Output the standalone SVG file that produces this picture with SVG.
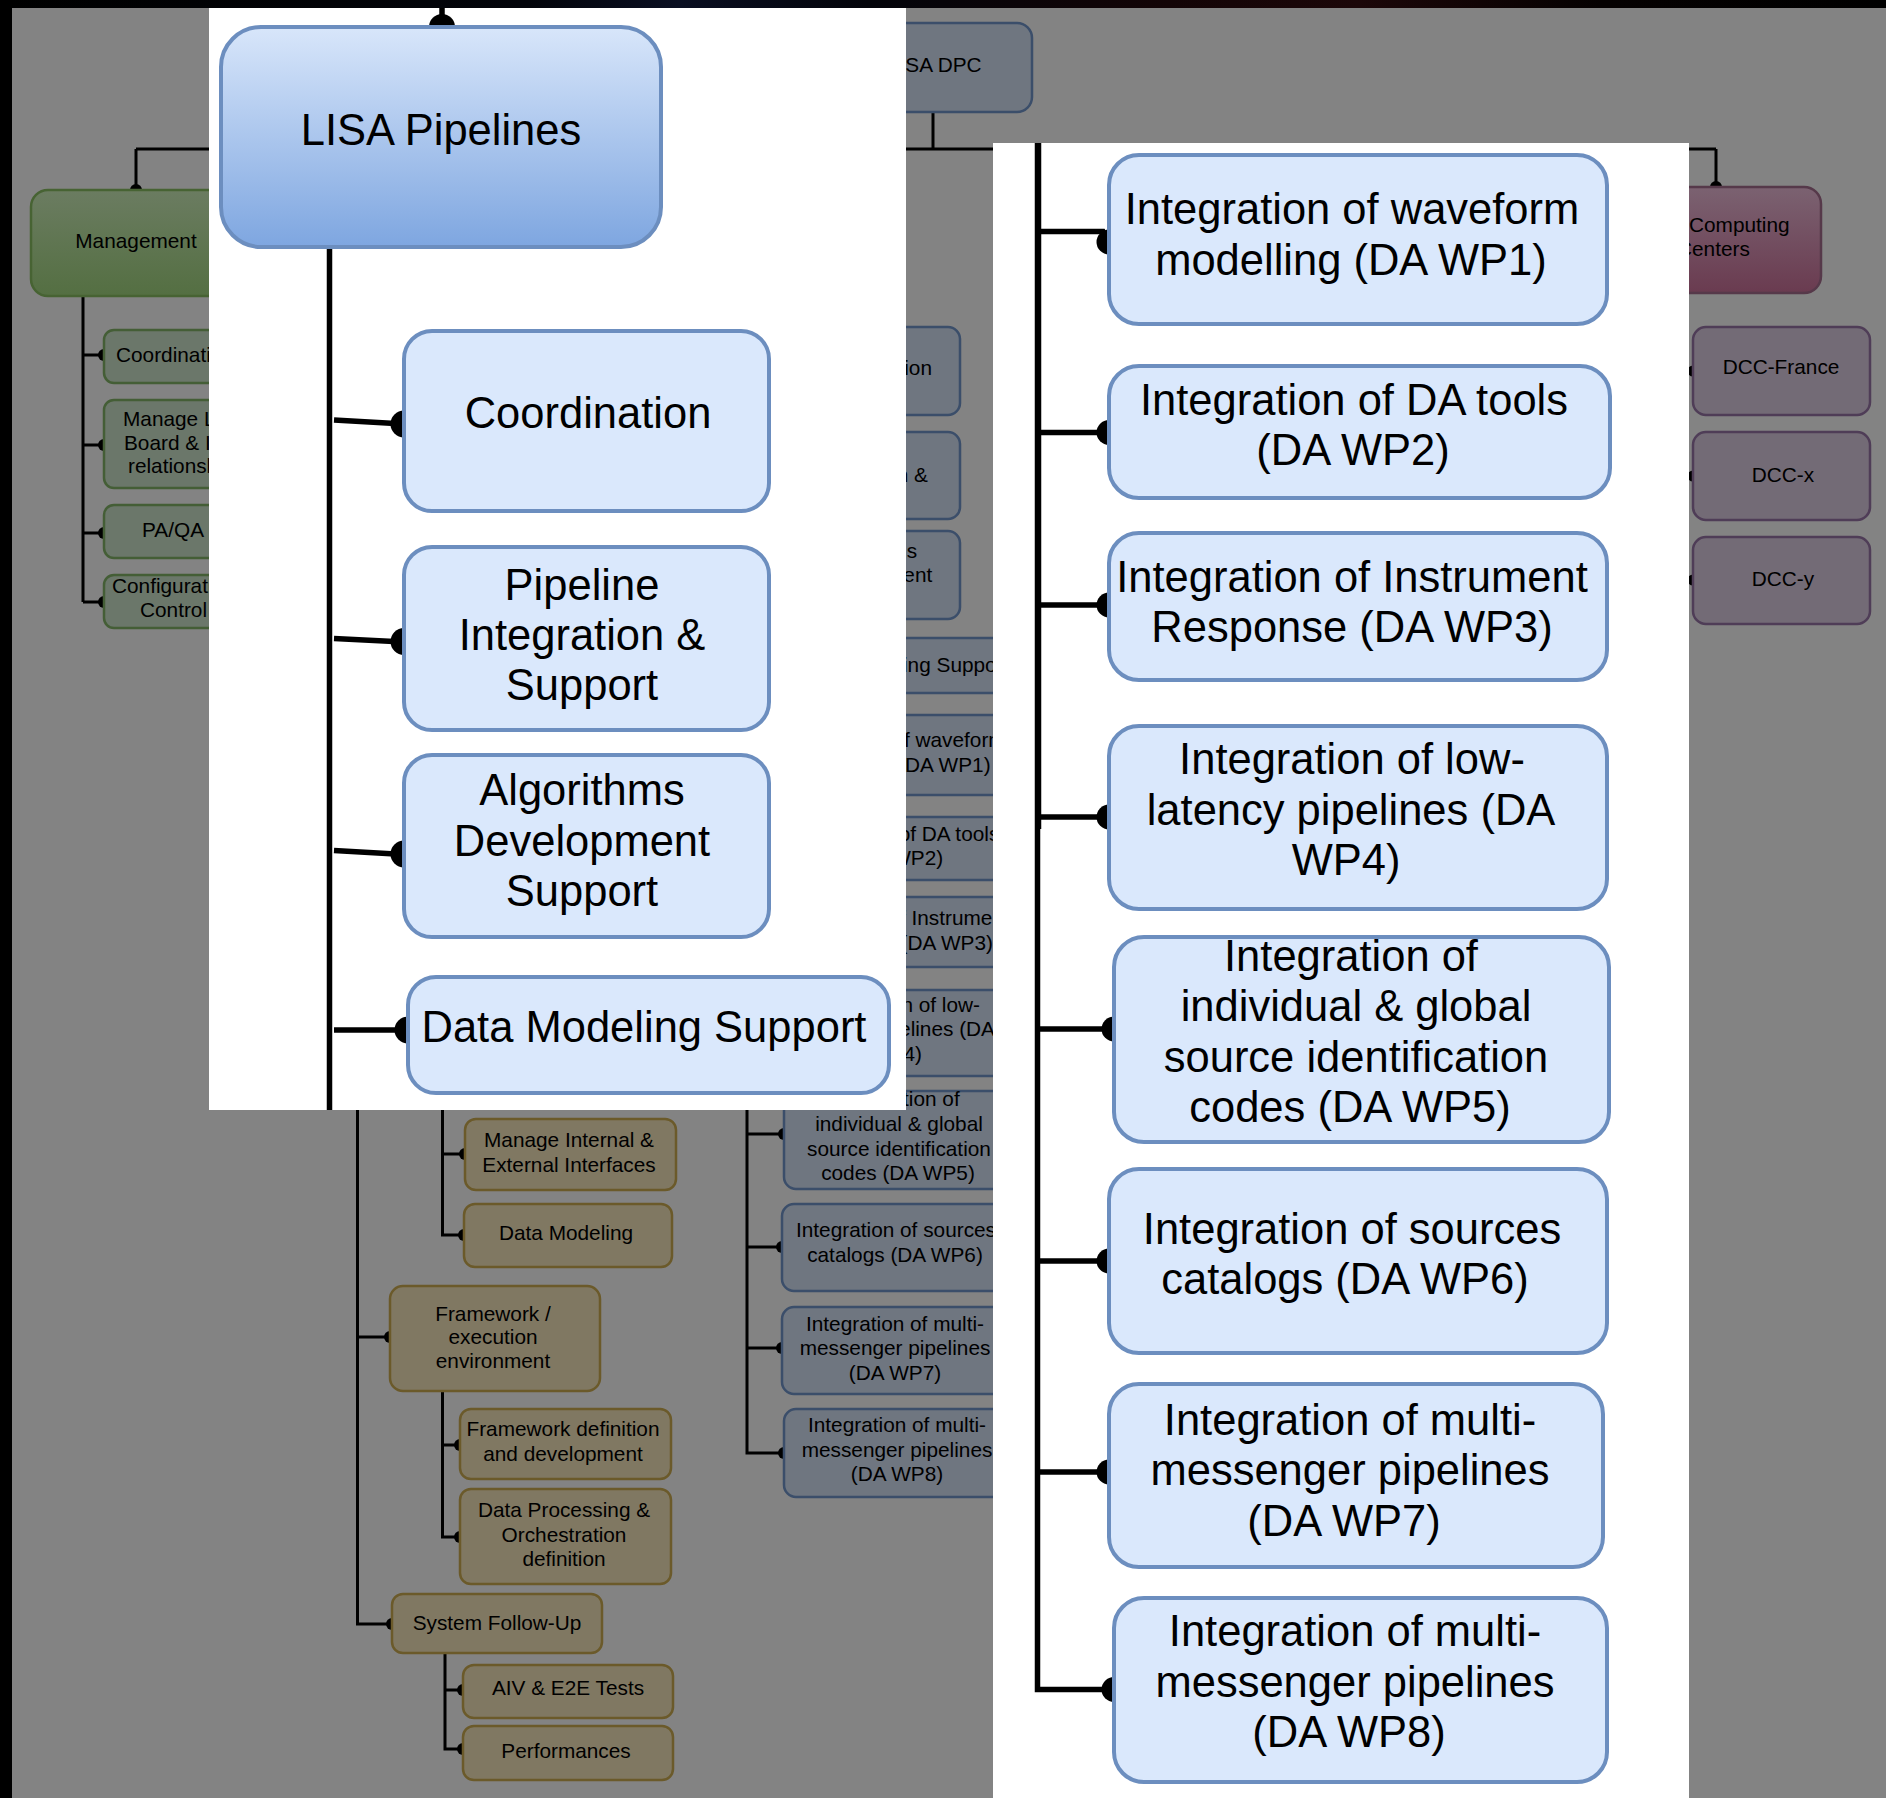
<svg xmlns="http://www.w3.org/2000/svg" width="1886" height="1798" viewBox="0 0 1886 1798">
<defs>
  <linearGradient id="gLisa" x1="0" y1="0" x2="0" y2="1">
    <stop offset="0" stop-color="#d8e6fa"/>
    <stop offset="1" stop-color="#7ea6e0"/>
  </linearGradient>
  <linearGradient id="gMgmt" x1="0" y1="0" x2="0" y2="1">
    <stop offset="0" stop-color="#6b7c61"/>
    <stop offset="1" stop-color="#546f42"/>
  </linearGradient>
  <linearGradient id="gComp" x1="0" y1="0" x2="0" y2="1">
    <stop offset="0" stop-color="#7b6271"/>
    <stop offset="1" stop-color="#6a3b50"/>
  </linearGradient>
  <linearGradient id="gTop" x1="0" y1="0" x2="1" y2="0">
    <stop offset="0" stop-color="#000"/>
    <stop offset="0.28" stop-color="#03050b"/>
    <stop offset="0.36" stop-color="#0a0f22"/>
    <stop offset="0.46" stop-color="#03040a"/>
    <stop offset="0.62" stop-color="#130406"/>
    <stop offset="0.72" stop-color="#1c0709"/>
    <stop offset="0.85" stop-color="#050101"/>
    <stop offset="1" stop-color="#000"/>
  </linearGradient>
</defs>
<style>
  text { font-family: "Liberation Sans", Arial, Helvetica, sans-serif; fill: #000; }
  .bt { font-size: 20.8px; text-anchor: middle; }
  .bs { font-size: 20.8px; text-anchor: start; }
  .be { font-size: 20.8px; text-anchor: end; }
  .pt { font-size: 43.5px; text-anchor: middle; }
  .bl { fill: #6f7680; stroke: #3b4e6a; stroke-width: 2.5; }
  .gr { fill: #6b776a; stroke: #445e36; stroke-width: 2.5; }
  .ye { fill: #807862; stroke: #6b5a2a; stroke-width: 2.5; }
  .pu { fill: #736b76; stroke: #4f3d57; stroke-width: 2.5; }
  .pn { fill: #dae8fc; stroke: #6c8ebf; stroke-width: 4; }
  .bc { fill: none; stroke: #000; stroke-width: 3; }
  .pc { fill: none; stroke: #000; stroke-width: 5.5; }
  .dot { fill: #000; }
</style>

<!-- dimmed backdrop -->
<rect x="0" y="0" width="1886" height="1798" fill="#838383"/>

<!-- backdrop tree: connectors -->
<g id="bg-connectors">
  <path class="bc" d="M136,149 H1716"/>
  <path class="bc" d="M933,111 V149"/>
  <path class="bc" d="M136,149 V190"/>
  <path class="bc" d="M1716,149 V187"/>
  <path class="bc" d="M83,296 V602"/>
  <path class="bc" d="M83,355 H104 M83,445 H104 M83,533 H104 M83,602 H104"/>
  <path class="bc" d="M357.5,1000 V1624 H392 M357.5,1337 H390"/>
  <path class="bc" d="M442.5,1000 V1235 H464 M442.5,1154 H465"/>
  <path class="bc" d="M442.5,1391 V1537 H460 M442.5,1445 H460"/>
  <path class="bc" d="M445,1653 V1749 H463 M445,1690 H463"/>
  <path class="bc" d="M747,1000 V1453 H784 M747,1134 H784 M747,1247 H782 M747,1348 H782"/>
  <circle class="dot" cx="136" cy="190" r="6"/>
  <circle class="dot" cx="1716" cy="187" r="6"/>
  <circle class="dot" cx="104" cy="355" r="6"/>
  <circle class="dot" cx="104" cy="445" r="6"/>
  <circle class="dot" cx="104" cy="533" r="6"/>
  <circle class="dot" cx="104" cy="602" r="6"/>
  <circle class="dot" cx="390" cy="1337" r="6"/>
  <circle class="dot" cx="392" cy="1624" r="6"/>
  <circle class="dot" cx="465" cy="1154" r="6"/>
  <circle class="dot" cx="464" cy="1235" r="6"/>
  <circle class="dot" cx="460" cy="1445" r="6"/>
  <circle class="dot" cx="460" cy="1537" r="6"/>
  <circle class="dot" cx="463" cy="1690" r="6"/>
  <circle class="dot" cx="463" cy="1749" r="6"/>
  <circle class="dot" cx="784" cy="1134" r="6"/>
  <circle class="dot" cx="782" cy="1247" r="6"/>
  <circle class="dot" cx="782" cy="1348" r="6"/>
  <circle class="dot" cx="784" cy="1453" r="6"/>
  <circle class="dot" cx="1693" cy="371" r="5.5"/>
  <circle class="dot" cx="1693" cy="476" r="5.5"/>
  <circle class="dot" cx="1693" cy="580" r="5.5"/>
</g>

<!-- backdrop tree: nodes -->
<g id="bg-dpc"><rect x="835" y="23" width="197" height="89" rx="15" fill="#6f7680" stroke="#3b4e6a" stroke-width="2.5"/><text class="bs" x="888" y="72">LISA DPC</text></g>

<g id="bg-management"><rect x="31" y="190" width="210" height="106" rx="17" fill="url(#gMgmt)" stroke="#476333" stroke-width="2.5"/><text class="bt" x="136" y="248">Management</text></g>
<g id="bg-mg-coordination"><rect class="gr" x="104" y="330" width="136" height="53" rx="10"/><text class="bs" x="116" y="362">Coordination</text></g>
<g id="bg-mg-board"><rect class="gr" x="104" y="400" width="136" height="88" rx="10"/><text class="bs" x="123" y="426">Manage L</text><text class="bs" x="124" y="450">Board &amp; I</text><text class="bs" x="128" y="473">relationsh</text></g>
<g id="bg-mg-paqa"><rect class="gr" x="104" y="505" width="136" height="53" rx="10"/><text class="bs" x="142" y="537">PA/QA</text></g>
<g id="bg-mg-config"><rect class="gr" x="104" y="575" width="136" height="53" rx="10"/><text class="bs" x="112" y="593">Configuration</text><text class="bs" x="140" y="617">Control</text></g>

<g id="bg-coordination"><rect class="bl" x="784" y="327" width="176" height="88" rx="12"/><text class="bt" x="873" y="375">Coordination</text></g>
<g id="bg-pipeline"><rect class="bl" x="784" y="432" width="176" height="87" rx="12"/><text class="bt" x="869" y="458">Pipeline</text><text class="bt" x="869" y="482">Integration &amp;</text><text class="bt" x="869" y="506">Support</text></g>
<g id="bg-algorithms"><rect class="bl" x="784" y="531" width="176" height="88" rx="12"/><text class="bt" x="868" y="558">Algorithms</text><text class="bt" x="871" y="582">Development</text><text class="bt" x="869" y="606">Support</text></g>
<g id="bg-datamodeling"><rect class="bl" x="784" y="638" width="240" height="55" rx="12"/><text class="bt" x="903" y="672">Data Modeling Support</text></g>

<g id="bg-wp1"><rect class="bl" x="783" y="715" width="228" height="80" rx="12"/><text class="bt" x="897" y="747">Integration of waveform</text><text class="bt" x="897" y="772">modelling (DA WP1)</text></g>
<g id="bg-wp2"><rect class="bl" x="783" y="817" width="228" height="63" rx="12"/><text class="bt" x="897" y="841">Integration of DA tools</text><text class="bt" x="897" y="865">(DA WP2)</text></g>
<g id="bg-wp3"><rect class="bl" x="783" y="897" width="228" height="70" rx="12"/><text class="bt" x="897" y="925">Integration of Instrument</text><text class="bt" x="897" y="950">Response (DA WP3)</text></g>
<g id="bg-wp4"><rect class="bl" x="783" y="990" width="228" height="86" rx="12"/><text class="be" x="980" y="1012">n of low-</text><text class="be" x="995" y="1036">elines (DA</text><text class="be" x="922" y="1061">4)</text></g>
<g id="bg-wp5"><rect class="bl" x="784" y="1091" width="227" height="98" rx="12"/><text class="bt" x="899" y="1106">Integration of</text><text class="bt" x="899" y="1131">individual &amp; global</text><text class="bt" x="899" y="1156">source identification</text><text class="bt" x="898" y="1180">codes (DA WP5)</text></g>
<g id="bg-wp6"><rect class="bl" x="782" y="1204" width="229" height="87" rx="12"/><text class="bt" x="896" y="1237">Integration of sources</text><text class="bt" x="895" y="1262">catalogs (DA WP6)</text></g>
<g id="bg-wp7"><rect class="bl" x="782" y="1307" width="229" height="87" rx="12"/><text class="bt" x="895" y="1331">Integration of multi-</text><text class="bt" x="895" y="1355">messenger pipelines</text><text class="bt" x="895" y="1380">(DA WP7)</text></g>
<g id="bg-wp8"><rect class="bl" x="784" y="1409" width="227" height="88" rx="12"/><text class="bt" x="897" y="1432">Integration of multi-</text><text class="bt" x="897" y="1457">messenger pipelines</text><text class="bt" x="897" y="1481">(DA WP8)</text></g>

<g id="bg-interfaces"><rect class="ye" x="465" y="1119" width="211" height="71" rx="11"/><text class="bt" x="569" y="1147">Manage Internal &amp;</text><text class="bt" x="569" y="1172">External Interfaces</text></g>
<g id="bg-data-modeling"><rect class="ye" x="464" y="1204" width="208" height="63" rx="11"/><text class="bt" x="566" y="1240">Data Modeling</text></g>
<g id="bg-framework"><rect class="ye" x="390" y="1286" width="210" height="105" rx="13"/><text class="bt" x="493" y="1321">Framework /</text><text class="bt" x="493" y="1344">execution</text><text class="bt" x="493" y="1368">environment</text></g>
<g id="bg-framework-def"><rect class="ye" x="460" y="1409" width="211" height="70" rx="11"/><text class="bt" x="563" y="1436">Framework definition</text><text class="bt" x="563" y="1461">and development</text></g>
<g id="bg-orchestration"><rect class="ye" x="460" y="1489" width="211" height="95" rx="11"/><text class="bt" x="564" y="1517">Data Processing &amp;</text><text class="bt" x="564" y="1542">Orchestration</text><text class="bt" x="564" y="1566">definition</text></g>
<g id="bg-followup"><rect class="ye" x="392" y="1594" width="210" height="59" rx="11"/><text class="bt" x="497" y="1630">System Follow-Up</text></g>
<g id="bg-aiv"><rect class="ye" x="463" y="1665" width="210" height="53" rx="11"/><text class="bt" x="568" y="1695">AIV &amp; E2E Tests</text></g>
<g id="bg-performances"><rect class="ye" x="463" y="1726" width="210" height="54" rx="11"/><text class="bt" x="566" y="1758">Performances</text></g>

<g id="bg-computing"><rect x="1611" y="187" width="210" height="106" rx="17" fill="url(#gComp)" stroke="#56394a" stroke-width="2.5"/><text class="bs" x="1689" y="232">Computing</text><text class="bs" x="1677" y="256">Centers</text></g>
<g id="bg-dcc-france"><rect class="pu" x="1693" y="327" width="177" height="88" rx="13"/><text class="bt" x="1781" y="374">DCC-France</text></g>
<g id="bg-dcc-x"><rect class="pu" x="1693" y="432" width="177" height="88" rx="13"/><text class="bt" x="1783" y="482">DCC-x</text></g>
<g id="bg-dcc-y"><rect class="pu" x="1693" y="537" width="177" height="87" rx="13"/><text class="bt" x="1783" y="586">DCC-y</text></g>

<!-- screen edges -->
<rect x="0" y="0" width="1886" height="8" fill="url(#gTop)"/>
<rect x="0" y="0" width="12" height="1798" fill="#000"/>

<!-- left close-up panel -->
<g id="panel-left">
  <rect x="209" y="8" width="697" height="1102" fill="#fff"/>
  <g id="left-connectors">
    <path class="pc" d="M442,8 V27" stroke-width="6"/>
    <circle class="dot" cx="442" cy="27" r="13"/>
    <path class="pc" d="M329.5,247 V1110" stroke-width="9"/>
    <path class="pc" d="M334,420 L404,424"/>
    <path class="pc" d="M334,638.5 L404,642"/>
    <path class="pc" d="M334,850.5 L404,854.5"/>
    <path class="pc" d="M334,1030 L408,1030"/>
    <circle class="dot" cx="404" cy="424" r="13.5"/>
    <circle class="dot" cx="404" cy="641.5" r="13.5"/>
    <circle class="dot" cx="404" cy="854" r="13.5"/>
    <circle class="dot" cx="408" cy="1030" r="13.5"/>
  </g>
  <g id="lisa-pipelines"><rect x="221" y="27" width="440" height="220" rx="40" fill="url(#gLisa)" stroke="#6c8ebf" stroke-width="4"/><text class="pt" x="441" y="145">LISA Pipelines</text></g>
  <g id="coordination"><rect class="pn" x="404" y="331" width="365" height="180" rx="28"/><text class="pt" x="588" y="428">Coordination</text></g>
  <g id="pipeline-integration"><rect class="pn" x="404" y="547" width="365" height="183" rx="28"/><text class="pt" x="582" y="600">Pipeline</text><text class="pt" x="582" y="650">Integration &amp;</text><text class="pt" x="582" y="700">Support</text></g>
  <g id="algorithms"><rect class="pn" x="404" y="755" width="365" height="182" rx="28"/><text class="pt" x="582" y="805">Algorithms</text><text class="pt" x="582" y="856">Development</text><text class="pt" x="582" y="906">Support</text></g>
  <g id="data-modeling-support"><rect class="pn" x="408" y="977" width="481" height="116" rx="28"/><text class="pt" x="644" y="1042">Data Modeling Support</text></g>
</g>

<!-- right close-up panel -->
<g id="panel-right">
  <rect x="993" y="143" width="696" height="1655" fill="#fff"/>
  <g id="right-connectors">
    <path class="pc" d="M1038.5,143 V829" stroke-width="9"/>
    <path class="pc" d="M1037.5,143 V1689.5 H1114"/>
    <path class="pc" d="M1038,231.5 H1103 L1109,242"/>
    <path class="pc" d="M1038,432.5 H1109"/>
    <path class="pc" d="M1038,605 H1109"/>
    <path class="pc" d="M1038,817 H1109"/>
    <path class="pc" d="M1038,1029 H1114"/>
    <path class="pc" d="M1038,1261 H1109"/>
    <path class="pc" d="M1038,1472 H1109"/>
    <circle class="dot" cx="1109" cy="242" r="12.5"/>
    <circle class="dot" cx="1109" cy="432.5" r="12.5"/>
    <circle class="dot" cx="1109" cy="605" r="12.5"/>
    <circle class="dot" cx="1109" cy="817" r="12.5"/>
    <circle class="dot" cx="1114" cy="1029" r="12.5"/>
    <circle class="dot" cx="1109" cy="1261" r="12.5"/>
    <circle class="dot" cx="1109" cy="1472" r="12.5"/>
    <circle class="dot" cx="1114" cy="1689.5" r="12.5"/>
  </g>
  <g id="wp1"><rect class="pn" x="1109" y="155" width="498" height="169" rx="30"/><text class="pt" x="1352" y="224">Integration of waveform</text><text class="pt" x="1351" y="274.5">modelling (DA WP1)</text></g>
  <g id="wp2"><rect class="pn" x="1109" y="366" width="501" height="132" rx="30"/><text class="pt" x="1354" y="415">Integration of DA tools</text><text class="pt" x="1353" y="465">(DA WP2)</text></g>
  <g id="wp3"><rect class="pn" x="1109" y="533" width="498" height="147" rx="30"/><text class="pt" x="1352" y="592">Integration of Instrument</text><text class="pt" x="1352" y="642">Response (DA WP3)</text></g>
  <g id="wp4"><rect class="pn" x="1109" y="726" width="498" height="183" rx="30"/><text class="pt" x="1352" y="774">Integration of low-</text><text class="pt" x="1351" y="824.5">latency pipelines (DA</text><text class="pt" x="1346" y="875">WP4)</text></g>
  <g id="wp5"><rect class="pn" x="1114" y="937" width="495" height="205" rx="30"/><text class="pt" x="1351" y="970.5">Integration of</text><text class="pt" x="1356" y="1021">individual &amp; global</text><text class="pt" x="1356" y="1071.5">source identification</text><text class="pt" x="1350" y="1122">codes (DA WP5)</text></g>
  <g id="wp6"><rect class="pn" x="1109" y="1169" width="498" height="184" rx="30"/><text class="pt" x="1352" y="1243.5">Integration of sources</text><text class="pt" x="1345" y="1294">catalogs (DA WP6)</text></g>
  <g id="wp7"><rect class="pn" x="1109" y="1384" width="494" height="183" rx="30"/><text class="pt" x="1350" y="1435">Integration of multi-</text><text class="pt" x="1350" y="1485">messenger pipelines</text><text class="pt" x="1344" y="1536">(DA WP7)</text></g>
  <g id="wp8"><rect class="pn" x="1114" y="1598" width="493" height="184" rx="30"/><text class="pt" x="1355" y="1646">Integration of multi-</text><text class="pt" x="1355" y="1697">messenger pipelines</text><text class="pt" x="1349" y="1747">(DA WP8)</text></g>
</g>
</svg>
